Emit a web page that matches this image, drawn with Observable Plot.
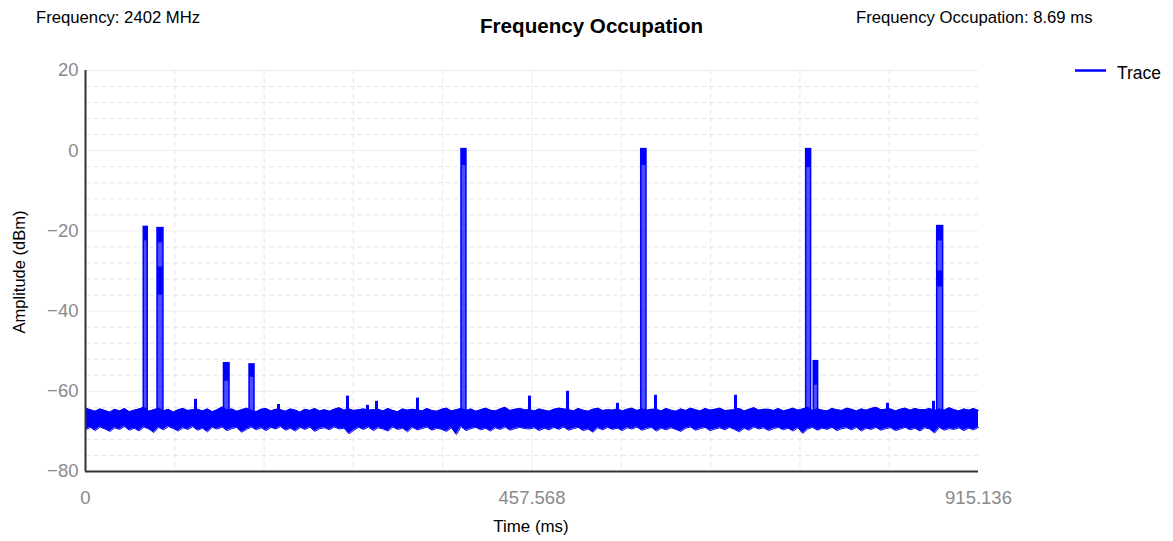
<!DOCTYPE html>
<html><head><meta charset="utf-8">
<script src="https://cdn.jsdelivr.net/npm/d3@7"></script>
<script src="https://cdn.jsdelivr.net/npm/@observablehq/plot@0.6"></script>
<style>
body{margin:0;background:#fff;}
#wrap{position:relative;width:1173px;height:541px;overflow:hidden;font-family:"Liberation Sans",Arial,sans-serif;background:#fff;}
#wrap svg{position:absolute;left:0;top:0;}
g[aria-label="y-axis tick label"], g[aria-label="x-axis tick label"]{fill:#8a8a8a;}
</style></head><body><div id="wrap"></div>
<script>
// ---- data ----
const timeMax = 915.136;
const xTickValues = [0, 457.568, 915.136];
const xTickLabels = ["0", "457.568", "915.136"];
const xGridMinor = [91.514, 183.027, 274.541, 366.054, 549.082, 640.595, 732.109, 823.622];
const xGridMajor = [457.568];
const yTickValues = [-80, -60, -40, -20, 0, 20];
const yGridMajor = [-60, -40, -20, 0, 20];
const yGridMinor = [-76, -72, -68, -64, -56, -52, -48, -44, -36, -32, -28, -24, -16, -12, -8, -4, 4, 8, 12, 16];

// noise floor envelope (dBm), samples evenly spaced over 0..915.136 ms
const noiseHi = [
-64.2,-64.6,-65.0,-64.4,-64.8,-65.2,-64.5,-64.9,-64.3,-65.1,
-64.7,-64.4,-64.0,-65.0,-64.6,-64.2,-64.9,-64.5,-65.2,-64.6,
-64.3,-64.8,-64.6,-64.5,-64.9,-64.4,-65.1,-64.6,-63.9,-64.7,
-64.4,-65.0,-64.6,-64.2,-64.8,-65.1,-64.5,-64.3,-64.9,-64.5,
-64.6,-65.0,-64.4,-64.7,-65.2,-64.5,-64.8,-64.3,-64.9,-64.6,
-65.0,-64.5,-64.1,-64.7,-64.4,-64.8,-64.6,-64.4,-64.7,-64.6,
-64.5,-64.9,-64.3,-64.8,-65.1,-64.4,-64.7,-64.5,-64.6,-64.9,
-64.3,-64.8,-65.0,-64.5,-64.2,-64.9,-64.6,-64.3,-64.8,-64.4,
-65.0,-64.6,-64.2,-64.7,-64.9,-64.4,-64.0,-64.8,-64.5,-64.3,
-64.6,-64.6,-64.9,-64.4,-64.7,-65.0,-64.5,-64.2,-64.4,-64.6,
-64.9,-64.3,-64.7,-65.0,-64.5,-64.2,-64.8,-64.6,-64.7,-64.4,
-64.9,-64.5,-64.2,-64.8,-64.4,-64.7,-64.5,-64.5,-64.9,-64.3,
-64.7,-65.0,-64.4,-64.8,-64.2,-64.6,-64.9,-64.3,-64.7,-64.5,
-64.2,-64.8,-64.7,-64.6,-64.3,-64.9,-64.5,-64.1,-64.7,-64.5,
-64.5,-64.8,-64.3,-64.9,-64.6,-64.2,-64.7,-64.4,-64.0,-64.8,
-64.4,-64.7,-64.9,-64.3,-64.6,-64.8,-64.2,-64.5,-64.9,-64.4,
-64.7,-64.3,-64.0,-64.6,-64.5,-64.4,-64.9,-64.5,-64.2,-64.7,
-64.3,-64.6,-64.6,-64.3,-64.8,-64.4,-64.7,-64.1,-64.6,-64.9,
-64.4,-64.7,-64.3,-64.8
];
const noiseLo = [
-69.6,-69.0,-69.8,-68.9,-69.4,-70.0,-69.1,-69.5,-68.8,-69.7,
-69.2,-69.9,-68.9,-69.4,-70.3,-69.0,-69.6,-68.8,-69.3,-69.9,
-69.1,-69.5,-68.8,-69.7,-69.2,-70.1,-69.0,-69.4,-68.9,-69.8,
-69.3,-69.0,-70.2,-69.5,-68.9,-69.6,-69.1,-69.8,-69.0,-69.4,
-68.8,-69.7,-69.2,-69.9,-69.0,-69.5,-68.9,-70.0,-69.3,-69.1,
-69.6,-68.9,-69.4,-69.2,-70.6,-69.7,-69.0,-69.5,-68.9,-69.8,
-69.1,-69.4,-69.9,-68.9,-69.5,-69.2,-70.1,-69.0,-69.6,-69.3,
-68.9,-69.7,-69.2,-69.5,-70.0,-69.1,-70.8,-68.8,-69.8,-69.3,
-69.0,-69.6,-69.2,-69.9,-69.1,-69.5,-68.9,-69.7,-69.3,-69.0,
-69.3,-69.4,-69.1,-69.8,-69.2,-69.6,-69.0,-69.5,-68.9,-69.7,
-69.3,-69.0,-69.8,-69.4,-70.2,-69.1,-69.6,-69.0,-69.5,-69.2,
-69.8,-69.1,-69.4,-68.9,-69.7,-69.3,-69.0,-69.9,-69.2,-69.6,
-69.1,-69.5,-70.0,-69.2,-68.9,-69.7,-69.3,-69.0,-69.8,-69.4,
-69.1,-69.6,-69.0,-69.5,-70.1,-69.2,-69.7,-68.9,-69.4,-69.1,
-69.8,-69.3,-69.0,-69.6,-69.2,-69.9,-69.1,-70.5,-69.4,-69.0,
-69.7,-69.2,-69.5,-69.0,-69.8,-69.3,-69.1,-69.6,-69.0,-69.9,
-69.2,-69.5,-69.0,-69.7,-69.3,-69.1,-69.8,-69.4,-69.0,-69.6,
-69.2,-69.9,-69.1,-69.4,-70.4,-69.0,-69.7,-69.3,-69.5,-69.1,
-69.8,-69.2,-69.6,-69.0
];

// small spurs above the floor (ms, dBm)
const spurTime  = [112.7, 197.8, 268.5, 289.0, 298.2, 340.2, 455.0, 494.0, 545.2, 584.1, 666.1, 821.9, 869.0];
const spurLevel = [-62.0, -63.3, -61.2, -63.5, -62.5, -61.7, -61.2, -60.0, -63.0, -61.0, -61.0, -63.0, -62.5];

// transmission pulses (ms, dBm)
const pulseStart   = [59.7, 73.8, 141.9, 168.1, 385.3, 569.5, 738.5, 746.3, 872.8];
const pulseEnd     = [63.8, 79.9, 147.6, 173.2, 390.4, 574.9, 743.6, 750.8, 878.9];
const pulseTop     = [-19.0, -19.3, -53.0, -53.3, 0.4, 0.4, 0.4, -52.5, -18.8];
const pulseHeadLow = [-22.5, -23.0, -57.5, -56.5, -3.7, -3.7, -4.2, -58.5, -22.5];
const pulseSeg2Top = [null, -29.0, null, null, null, null, null, null, -30.0];
const pulseSeg2Low = [null, -36.0, null, null, null, null, null, null, -34.0];
const pulseBase = -68.0;
const spurBase = -65.0;

// ---- tables ----
const N = noiseHi.length;
const floor = noiseHi.map((h, i) => ({t: i * timeMax / (N - 1), hi: h, lo: noiseLo[i]}));
const spurs = spurTime.map((t, i) => ({t, level: spurLevel[i]}));
const pulses = pulseStart.map((s, i) => ({s, e: pulseEnd[i], top: pulseTop[i], head: pulseHeadLow[i], s2t: pulseSeg2Top[i], s2l: pulseSeg2Low[i]}));
const seg2 = pulses.filter(p => p.s2t !== null);

const blue = "#0000ff";

const chart = Plot.plot({
  width: 1173,
  height: 541,
  marginLeft: 85,
  marginRight: 195,
  marginTop: 70,
  marginBottom: 70,
  style: {fontFamily: '"Liberation Sans", Arial, sans-serif', background: "#fff"},
  x: {domain: [0, timeMax]},
  y: {domain: [-80, 20]},
  marks: [
    Plot.ruleY(yGridMinor, {stroke: "#e6e6e6", strokeDasharray: "5,3"}),
    Plot.ruleY(yGridMajor, {stroke: "#ededed"}),
    Plot.ruleX(xGridMinor, {stroke: "#e6e6e6", strokeDasharray: "5,3"}),
    Plot.ruleX(xGridMajor, {stroke: "#ededed"}),
    Plot.areaY(floor, {x: "t", y1: "lo", y2: "hi", fill: blue}),
    Plot.lineY(floor, {x: "t", y: "hi", stroke: blue, strokeWidth: 1}),
    Plot.lineY(floor, {x: "t", y: "lo", stroke: blue, strokeWidth: 1}),
    Plot.ruleX(spurs, {x: "t", y1: spurBase, y2: "level", stroke: blue, strokeWidth: 3}),
    Plot.rect(pulses, {x1: "s", x2: "e", y1: pulseBase, y2: "top", fill: blue, fillOpacity: 0.7, stroke: blue, strokeWidth: 1.5}),
    Plot.rect(pulses, {x1: "s", x2: "e", y1: "head", y2: "top", fill: blue}),
    Plot.rect(seg2, {x1: "s", x2: "e", y1: "s2l", y2: "s2t", fill: blue}),
    Plot.ruleX([0], {y1: -80, y2: 20, stroke: "#333", strokeWidth: 2}),
    Plot.ruleY([-80], {x1: 0, x2: timeMax, stroke: "#333", strokeWidth: 2}),
    Plot.axisY({ticks: yTickValues, tickSize: 0, tickPadding: 7, fontSize: 18.5, label: null}),
    Plot.axisX({ticks: xTickValues, tickFormat: d => xTickLabels[xTickValues.indexOf(d)], tickSize: 0, tickPadding: 19, fontSize: 18.5, label: null})
  ]
});
const wrap = document.getElementById("wrap");
wrap.appendChild(chart);

// overlay texts
const ov = d3.select(wrap).append("svg").attr("width", 1173).attr("height", 541)
  .style("font-family", '"Liberation Sans", Arial, sans-serif');
ov.append("text").attr("x", 36).attr("y", 22.5).attr("font-size", 16.7).text("Frequency: 2402 MHz");
ov.append("text").attr("x", 480).attr("y", 33).attr("font-size", 20.6).attr("font-weight", "bold").text("Frequency Occupation");
ov.append("text").attr("x", 856).attr("y", 22.5).attr("font-size", 16.7).text("Frequency Occupation: 8.69 ms");
ov.append("line").attr("x1", 1075).attr("x2", 1106).attr("y1", 70.5).attr("y2", 70.5).attr("stroke", blue).attr("stroke-width", 2.5);
ov.append("text").attr("x", 1117).attr("y", 79).attr("font-size", 17.5).text("Trace");
ov.append("text").attr("transform", "translate(24.5,272) rotate(-90)").attr("text-anchor", "middle").attr("font-size", 16.5).text("Amplitude (dBm)");
ov.append("text").attr("x", 531).attr("y", 532).attr("text-anchor", "middle").attr("font-size", 16.9).text("Time (ms)");
</script></body></html>
